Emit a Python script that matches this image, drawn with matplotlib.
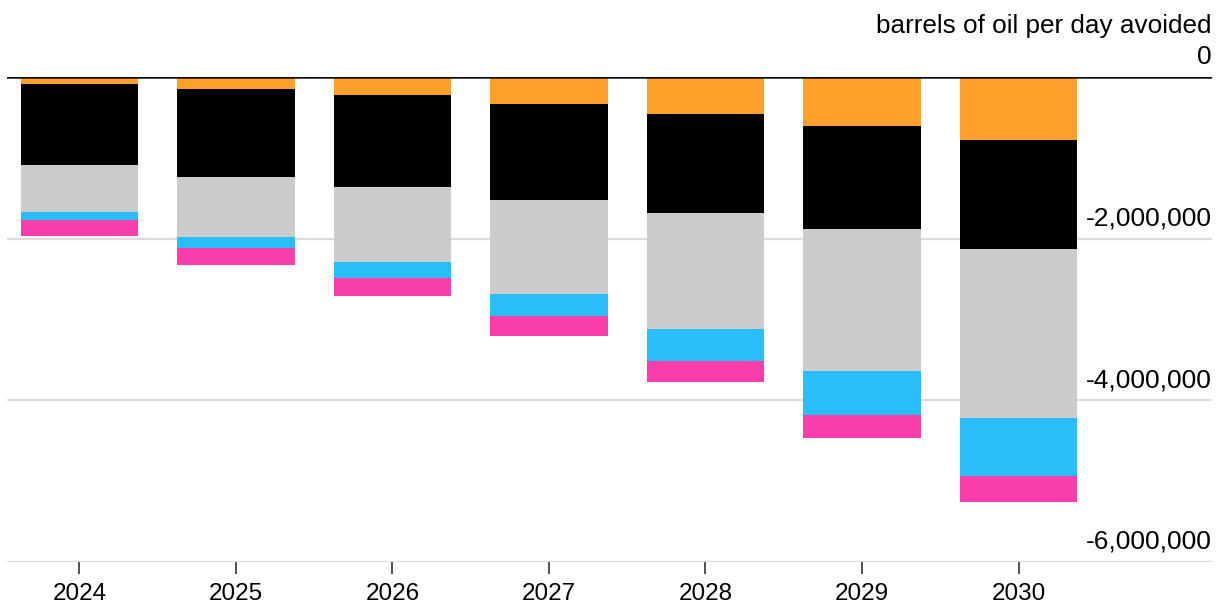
import matplotlib
matplotlib.use('Agg')
import matplotlib.pyplot as plt
import matplotlib.transforms as mtransforms
import numpy as np

plt.rcParams['font.family'] = ['Liberation Sans', 'DejaVu Sans']

# barrels of oil per day avoided (negative = avoided), stacked top to bottom
years = ['2024', '2025', '2026', '2027', '2028', '2029', '2030']
orange = [-87000, -145000, -226000, -338000, -453000, -600000, -783000]
black = [-1000000, -1095000, -1140000, -1178000, -1232000, -1285000, -1347000]
gray = [-580000, -740000, -927000, -1170000, -1434000, -1755000, -2085000]
blue = [-103000, -136000, -194000, -272000, -392000, -536000, -720000]
pink = [-194000, -210000, -226000, -247000, -264000, -289000, -318000]

series = [orange, black, gray, blue, pink]
colors = ['#ffa02b', '#000000', '#cccccc', '#29bdf9', '#f93daa']

yticks = [0, -2000000, -4000000, -6000000]
ylabels = ['0', '-2,000,000', '-4,000,000', '-6,000,000']

fig = plt.figure(figsize=(12.23, 6.07), dpi=100)
ax = fig.add_axes([0.006, 0.0741, 0.985, 0.799])

x = np.arange(len(years))
bottom = np.zeros(len(years))
for vals, c in zip(series, colors):
	ax.bar(x, vals, bottom=bottom, width=0.75, color=c, zorder=2, linewidth=0)
	bottom = bottom + np.array(vals)

for v in yticks[1:]:
	ax.axhline(v, color='#dcdcdc', linewidth=1.6, zorder=1)
ax.axhline(0, color='#111111', linewidth=1.8, zorder=3)

trans = mtransforms.blended_transform_factory(ax.transAxes, ax.transData)
for v, lab in zip(yticks, ylabels):
	ax.annotate(lab, xy=(1, v), xycoords=trans, xytext=(0, 9.5), textcoords='offset points',
		ha='right', va='baseline', fontsize=19, color='#000000')

fig.text(1211/1223, 1 - 33/607, 'barrels of oil per day avoided', ha='right', va='baseline',
	fontsize=18.8, color='#000000')

ax.set_xlim(-0.46, len(years) - 1 + 1.236)
ax.set_ylim(-6000000, 0)
ax.set_xticks(x)
ax.set_xticklabels(years, fontsize=17.5)
ax.tick_params(axis='x', length=8.6, width=1.2, color='#333333', pad=6.5)
ax.set_yticks([])
for s in ax.spines.values():
	s.set_visible(False)

plt.savefig('out.png', dpi=100)
plt.close()
